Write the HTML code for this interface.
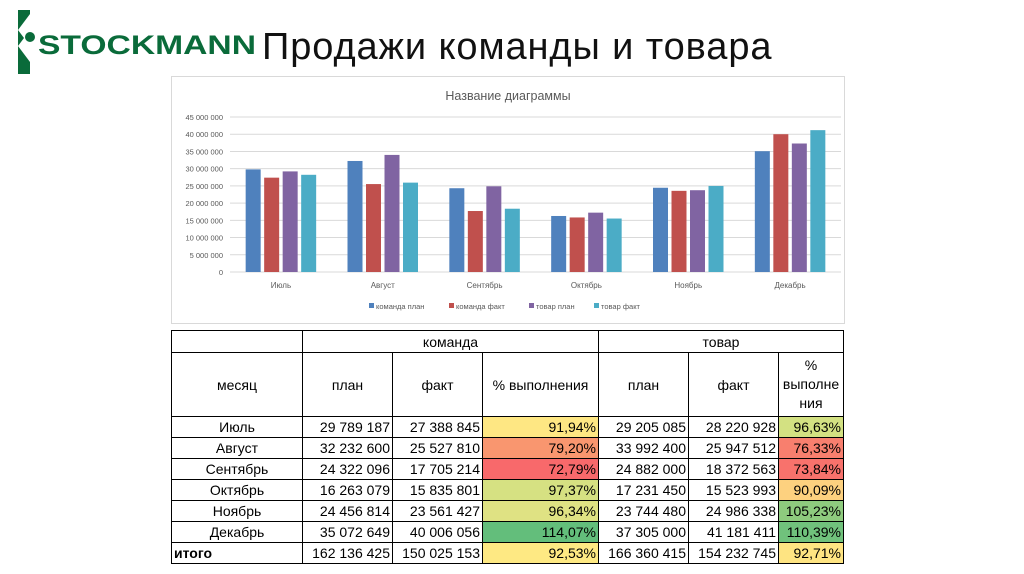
<!DOCTYPE html>
<html><head><meta charset="utf-8"><style>
body{margin:0;width:1024px;height:574px;background:#fff;position:relative;overflow:hidden;font-family:"Liberation Sans","DejaVu Sans",sans-serif}
#title{position:absolute;left:262px;top:26px;font-size:38px;letter-spacing:0.9px;color:#111;white-space:nowrap}
#logo{position:absolute;left:8px;top:8px}
#chart{position:absolute;left:171px;top:76px}
table{position:absolute;left:171px;top:330px;border-collapse:collapse;table-layout:fixed;font-size:14px;font-family:"Liberation Sans Narrow","Liberation Sans",sans-serif}
td{border:1.5px solid #000;padding:0 2px;text-align:right;white-space:nowrap;overflow:hidden;height:20px;line-height:18px}
td.c{text-align:center}
</style></head><body>
<svg id="logo" width="260" height="72">
<path d="M10 2 L22 2 L22 6 L10 22 L16 30 L10 38 L22 54 L22 66 L10 66 Z" fill="#0a6b3a"/>
<circle cx="22" cy="29" r="5" fill="#0a6b3a"/>
<text x="30" y="46" font-size="27" font-weight="bold" fill="#0a6b3a" font-family="Liberation Sans" textLength="218" lengthAdjust="spacingAndGlyphs">STOCKMANN</text>
</svg>
<div id="title">Продажи команды и товара</div>
<svg id="chart" width="674" height="248"></svg>
<table>
<colgroup><col style="width:131px"><col style="width:90px"><col style="width:90px"><col style="width:116px"><col style="width:90px"><col style="width:90px"><col style="width:65px"></colgroup>
<tr style="height:22px"><td></td><td class="c" colspan="3">команда</td><td class="c" colspan="3">товар</td></tr>
<tr style="height:64px"><td class="c">месяц</td><td class="c">план</td><td class="c">факт</td><td class="c">% выполнения</td><td class="c">план</td><td class="c">факт</td><td class="c" style="line-height:19px;white-space:normal">%<br>выполне<br>ния</td></tr>
<tr><td class="c">Июль</td><td>29 789 187</td><td>27 388 845</td><td style="background:#fee783">91,94%</td><td>29 205 085</td><td>28 220 928</td><td style="background:#d3e182">96,63%</td></tr>
<tr><td class="c">Август</td><td>32 232 600</td><td>25 527 810</td><td style="background:#f9966f">79,20%</td><td>33 992 400</td><td>25 947 512</td><td style="background:#f87f6e">76,33%</td></tr>
<tr><td class="c">Сентябрь</td><td>24 322 096</td><td>17 705 214</td><td style="background:#f8696b">72,79%</td><td>24 882 000</td><td>18 372 563</td><td style="background:#f8726c">73,84%</td></tr>
<tr><td class="c">Октябрь</td><td>16 263 079</td><td>15 835 801</td><td style="background:#d6e182">97,37%</td><td>17 231 450</td><td>15 523 993</td><td style="background:#fdd17f">90,09%</td></tr>
<tr><td class="c">Ноябрь</td><td>24 456 814</td><td>23 561 427</td><td style="background:#dfe283">96,34%</td><td>23 744 480</td><td>24 986 338</td><td style="background:#8ecb7e">105,23%</td></tr>
<tr><td class="c">Декабрь</td><td>35 072 649</td><td>40 006 056</td><td style="background:#63be7b">114,07%</td><td>37 305 000</td><td>41 181 411</td><td style="background:#70c27c">110,39%</td></tr>
<tr><td style="text-align:left;font-weight:bold">итого</td><td>162 136 425</td><td>150 025 153</td><td style="background:#fee983">92,53%</td><td>166 360 415</td><td>154 232 745</td><td style="background:#fee482">92,71%</td></tr>
</table>
<script>
const categories=["Июль","Август","Сентябрь","Октябрь","Ноябрь","Декабрь"];
const seriesNames=["команда план","команда факт","товар план","товар факт"];
const teamPlan=[29789187,32232600,24322096,16263079,24456814,35072649];
const teamFact=[27388845,25527810,17705214,15835801,23561427,40006056];
const goodsPlan=[29205085,33992400,24882000,17231450,23744480,37305000];
const goodsFact=[28220928,25947512,18372563,15523993,24986338,41181411];
const yTicks=[0,5000000,10000000,15000000,20000000,25000000,30000000,35000000,40000000,45000000];
const colors=["#4f81bd","#c0504d","#8064a2","#4bacc6"];
const NS="http://www.w3.org/2000/svg";
const svg=document.getElementById('chart');
function mk(t,a,p){const e=document.createElementNS(NS,t);for(const k in a)e.setAttribute(k,a[k]);(p||svg).appendChild(e);return e;}
mk('rect',{x:0.5,y:0.5,width:673,height:247,fill:'#fff',stroke:'#d9d9d9'});
const x0=59,x1=670,yBase=196,yTop=41,yMax=45000000;
const y=v=>yBase-(v/yMax)*(yBase-yTop);
const bw=(x1-x0)/categories.length;
const xc=i=>x0+bw*(i+0.5);
let t=mk('text',{x:337,y:24,'text-anchor':'middle','font-size':12.5,fill:'#595959'});t.textContent="Название диаграммы";


yTicks.forEach(v=>{
 const g=mk('line',{x1:x0,x2:x1,y1:y(v),y2:y(v),stroke:'#d9d9d9','stroke-width':1});
 
 
 const l=mk('text',{x:52,y:y(v)+3,'text-anchor':'end','font-size':7.5,fill:'#595959'});
 l.textContent=v===0?"0":v.toLocaleString('ru-RU').replace(/\s/g,' ');
 
 
});
const series=[teamPlan,teamFact,goodsPlan,goodsFact];
const barW=15,gap=3.5;
categories.forEach((c,i)=>{
 series.forEach((s,k)=>{
  const bx=xc(i)-(4*barW+3*gap)/2+k*(barW+gap);
  const r=mk('rect',{x:bx,y:y(s[i]),width:barW,height:yBase-y(s[i]),fill:colors[k]});
  
  
 });
 const l=mk('text',{x:xc(i),y:yBase+16,'text-anchor':'middle','font-size':8,fill:'#595959'});
 l.textContent=c;
 
 
});
const lx=[198,278,358,423];
seriesNames.forEach((n,k)=>{
 const g=mk('g',{});
 
 
 mk('rect',{x:lx[k],y:227,width:5,height:5,fill:colors[k]},g);
 const tx=mk('text',{x:lx[k]+7,y:233,'font-size':7.5,fill:'#595959'},g);tx.textContent=n;
});
</script>
</body></html>
